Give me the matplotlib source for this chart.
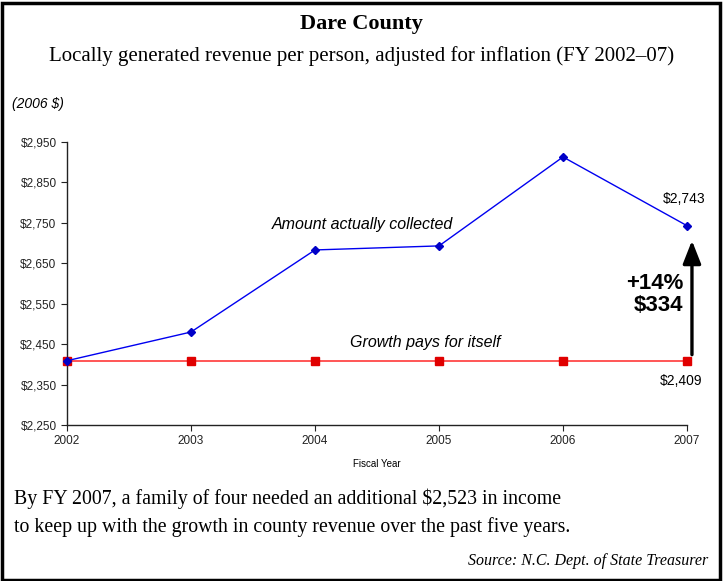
import matplotlib
matplotlib.use("Agg")
import matplotlib.pyplot as plt
from matplotlib.patches import Rectangle

years = [2002, 2003, 2004, 2005, 2006, 2007]
collected = [2409, 2480, 2683, 2693, 2913, 2743]
growth = [2409, 2409, 2409, 2409, 2409, 2409]
yticks = [2250, 2350, 2450, 2550, 2650, 2750, 2850, 2950]
ytick_labels = ["$2,250", "$2,350", "$2,450", "$2,550", "$2,650", "$2,750", "$2,850", "$2,950"]

W, H = 723, 581
fig = plt.figure(figsize=(W / 100, H / 100), dpi=100)
fig.patch.set_facecolor("white")
fig.patches.append(Rectangle((1.5 / W, 1.5 / H), 1 - 4.5 / W, 1 - 4.5 / H, transform=fig.transFigure,
                             fill=False, edgecolor="black", linewidth=2.5))

ax = fig.add_axes([67 / W, 1 - 425 / H, (687 - 67) / W, (425 - 142) / H])
ax.plot(years, growth, color="#ff4848", lw=1.3, marker="s", ms=6, mfc="#e00000", mec="#e00000",
        zorder=3, clip_on=False)
ax.plot(years, collected, color="#0000f0", lw=1.0, marker="D", ms=4, mfc="#0000c8", mec="#0000c8",
        zorder=4, clip_on=False)
ax.set_xlim(2002, 2007)
ax.set_ylim(2250, 2950)
ax.set_yticks(yticks)
ax.set_yticklabels(ytick_labels)
ax.set_xticks(years)
ax.set_xticklabels([str(y) for y in years])
for s in ["top", "right"]:
    ax.spines[s].set_visible(False)
for s in ["left", "bottom"]:
    ax.spines[s].set_linewidth(1.0)
    ax.spines[s].set_color("#222222")
ax.tick_params(axis="both", labelsize=8.5, direction="out", length=4, width=0.8, colors="#222222")
for lbl in ax.get_xticklabels() + ax.get_yticklabels():
    lbl.set_fontfamily("Liberation Sans")
ax.set_xlabel("Fiscal Year", fontsize=7, family="Liberation Sans", labelpad=8)

ax.annotate("", xy=(2007.04, collected[-1] - 30), xytext=(2007.04, growth[-1] + 8),
            arrowprops=dict(arrowstyle="-|>,head_length=1.4,head_width=0.55", color="black", lw=2.4),
            annotation_clip=False)
ax.text(2006.97, 2600, "+14%", ha="right", va="center", fontsize=16, fontweight="bold", family="Liberation Sans")
ax.text(2006.97, 2545, "$334", ha="right", va="center", fontsize=16, fontweight="bold", family="Liberation Sans")
ax.text(2006.98, collected[-1] + 65, "$2,743", ha="center", va="center", fontsize=10, family="Liberation Sans")
ax.text(2006.95, growth[-1] - 49, "$2,409", ha="center", va="center", fontsize=10, family="Liberation Sans")
ax.text(2004.38, 2747, "Amount actually collected", ha="center", va="center", fontsize=11.5,
        style="italic", family="Liberation Sans")
ax.text(2004.89, 2453, "Growth pays for itself", ha="center", va="center", fontsize=11.5,
        style="italic", family="Liberation Sans")

fig.text(0.5, 1 - 24 / H, "Dare County", ha="center", va="center", fontsize=16, fontweight="bold",
         family="Liberation Serif")
fig.text(0.5, 1 - 56 / H, "Locally generated revenue per person, adjusted for inflation (FY 2002\u201307)",
         ha="center", va="center", fontsize=15, family="Liberation Serif")
fig.text(12 / W, 1 - 104 / H, "(2006 $)", ha="left", va="center", fontsize=10, style="italic",
         family="Liberation Sans")
fig.text(14 / W, 1 - 499 / H, "By FY 2007, a family of four needed an additional $2,523 in income",
         ha="left", va="center", fontsize=14.3, family="Liberation Serif")
fig.text(14 / W, 1 - 527 / H, "to keep up with the growth in county revenue over the past five years.",
         ha="left", va="center", fontsize=14.3, family="Liberation Serif")
fig.text(708 / W, 1 - 561 / H, "Source: N.C. Dept. of State Treasurer", ha="right", va="center",
         fontsize=11.5, style="italic", family="Liberation Serif")

fig.savefig("out.png", dpi=100, facecolor="white")
